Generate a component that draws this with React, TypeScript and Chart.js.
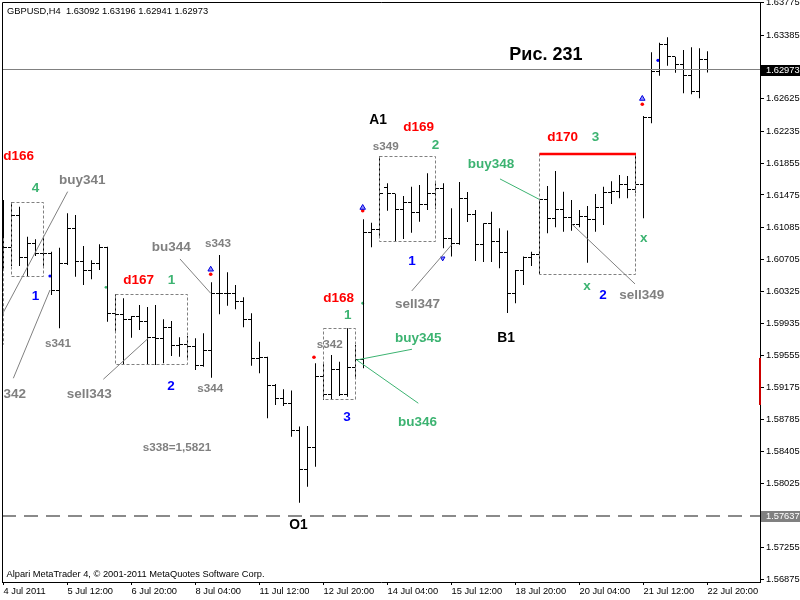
import React, { useEffect, useRef } from "react";
import { Chart, registerables } from "chart.js";

Chart.register(...registerables);

const FONT = "'Liberation Sans', Arial, sans-serif";

// ---------- OHLC data (GBPUSD H4, 4 Jul - 22 Jul 2011) ----------
const barOpen = [
  1.61116, 1.60849, 1.61224, 1.60729, 1.60889, 1.60777, 1.60769, 1.60326, 1.60657, 1.61076,
  1.60677, 1.60574, 1.60657, 1.60849, 1.60059, 1.60047, 1.59979, 1.60018, 1.59955, 1.59767,
  1.59760, 1.59891, 1.59676, 1.59683, 1.59659, 1.59432, 1.59611, 1.60298, 1.60298, 1.60290,
  1.60198, 1.59987, 1.59520, 1.59532, 1.59189, 1.59042, 1.58973, 1.58654, 1.58183, 1.58455,
  1.59300, 1.59089, 1.59389, 1.59081, 1.59413, 1.59500, 1.61029, 1.61056, 1.61567, 1.61487,
  1.61304, 1.61388, 1.61268, 1.61364, 1.61487, 1.61555, 1.60948, 1.60889, 1.61427, 1.61236,
  1.60877, 1.61128, 1.60918, 1.60784, 1.60298, 1.60569, 1.60721, 1.60765, 1.61420, 1.61188,
  1.61304, 1.61208, 1.61124, 1.61220, 1.61176, 1.61328, 1.61507, 1.61515, 1.61603, 1.61543,
  1.61603, 1.62405, 1.62959, 1.63279, 1.63127, 1.63040, 1.62911, 1.62712, 1.63092,
];
const barHigh = [
  1.61415, 1.61388, 1.61335, 1.60976, 1.60945, 1.60969, 1.60796, 1.60844, 1.61256, 1.61236,
  1.60865, 1.60693, 1.60885, 1.60855, 1.60286, 1.60239, 1.60027, 1.60158, 1.60134, 1.60158,
  1.59987, 1.59967, 1.59772, 1.59787, 1.59760, 1.59820, 1.60430, 1.60757, 1.60550, 1.60398,
  1.60250, 1.60059, 1.59719, 1.59539, 1.59213, 1.59149, 1.59133, 1.58702, 1.58710, 1.59460,
  1.59468, 1.59560, 1.59480, 1.59879, 1.59680, 1.61184, 1.61143, 1.61940, 1.61615, 1.61490,
  1.61463, 1.61574, 1.61595, 1.61735, 1.61615, 1.61615, 1.61316, 1.61631, 1.61511, 1.61295,
  1.61136, 1.61275, 1.61076, 1.61050, 1.60577, 1.60737, 1.60796, 1.61424, 1.61583, 1.61762,
  1.61515, 1.61415, 1.61295, 1.61343, 1.61487, 1.61574, 1.61639, 1.61714, 1.61702, 1.61966,
  1.62421, 1.63183, 1.63298, 1.63363, 1.63131, 1.63211, 1.63243, 1.63231, 1.63196,
];
const barLow = [
  1.60577, 1.60625, 1.60625, 1.60497, 1.60745, 1.60601, 1.60278, 1.59879, 1.60637, 1.60497,
  1.60398, 1.60466, 1.60577, 1.59958, 1.59839, 1.59440, 1.59767, 1.59859, 1.59440, 1.59440,
  1.59460, 1.59548, 1.59539, 1.59524, 1.59380, 1.59420, 1.59288, 1.60047, 1.60150, 1.60107,
  1.59891, 1.59432, 1.59341, 1.58802, 1.58961, 1.58949, 1.58582, 1.57792, 1.57983, 1.58223,
  1.59021, 1.59021, 1.59069, 1.59061, 1.59281, 1.59401, 1.60849, 1.60960, 1.61287, 1.60924,
  1.60948, 1.61024, 1.61155, 1.61295, 1.61304, 1.60837, 1.60737, 1.60880, 1.61152, 1.60685,
  1.60673, 1.60673, 1.60598, 1.60063, 1.60179, 1.60398, 1.60625, 1.60529, 1.61017, 1.61088,
  1.61036, 1.61048, 1.61088, 1.60665, 1.61036, 1.61116, 1.61367, 1.61435, 1.61435, 1.61503,
  1.61196, 1.62333, 1.62903, 1.63023, 1.62939, 1.62692, 1.62680, 1.62633, 1.62941,
];
const barClose = [
  1.60849, 1.61224, 1.60729, 1.60889, 1.60769, 1.60777, 1.60326, 1.60657, 1.61076, 1.60677,
  1.60574, 1.60657, 1.60849, 1.60059, 1.60047, 1.59979, 1.60018, 1.59955, 1.59767, 1.59760,
  1.59891, 1.59676, 1.59683, 1.59659, 1.59432, 1.59611, 1.60298, 1.60298, 1.60290, 1.60198,
  1.59987, 1.59520, 1.59532, 1.59189, 1.59042, 1.58973, 1.58654, 1.58183, 1.58455, 1.59300,
  1.59089, 1.59389, 1.59081, 1.59413, 1.59500, 1.61029, 1.61056, 1.61495, 1.61487, 1.61304,
  1.61388, 1.61268, 1.61364, 1.61487, 1.61555, 1.60948, 1.60889, 1.61427, 1.61236, 1.60877,
  1.61128, 1.60918, 1.60784, 1.60298, 1.60569, 1.60721, 1.60765, 1.61420, 1.61188, 1.61304,
  1.61208, 1.61124, 1.61220, 1.61176, 1.61328, 1.61507, 1.61515, 1.61603, 1.61543, 1.61603,
  1.62405, 1.62959, 1.63279, 1.63127, 1.63040, 1.62911, 1.62712, 1.63091, 1.62973,
];

// ---------- axes ----------
const xTickBars = [0, 8, 16, 24, 32, 40, 48, 56, 64, 72, 80, 88];
const xTickLabels = [
  "4 Jul 2011", "5 Jul 12:00", "6 Jul 20:00", "8 Jul 04:00", "11 Jul 12:00", "12 Jul 20:00",
  "14 Jul 04:00", "15 Jul 12:00", "18 Jul 20:00", "20 Jul 04:00", "21 Jul 12:00", "22 Jul 20:00",
];
const yTickValues = [
  1.56875, 1.57255, 1.58025, 1.58405, 1.58785, 1.59175, 1.59555, 1.59935, 1.60325,
  1.60705, 1.61085, 1.61475, 1.61855, 1.62235, 1.62625, 1.63385, 1.63775,
];
const yMin = 1.56842;
const yMax = 1.63785;
const xMin = -0.1875;
const xMax = 94.5625;

const titleText = "GBPUSD,H4  1.63092 1.63196 1.62941 1.62973";
const copyrightText = "Alpari MetaTrader 4, \u00A9 2001-2011 MetaQuotes Software Corp.";

// ---------- horizontal levels ----------
const bidLine = 1.62973;
const levelLine = 1.57637;
const redAxisMark = [1.58961, 1.59524];

// ---------- rectangles [fromBar, toBar, top, bottom] ----------
const boxFrom = [1, 14, 40, 47, 67];
const boxTo = [5, 23, 44, 54, 79];
const boxTop = [1.61388, 1.60286, 1.59879, 1.61940, 1.61966];
const boxBottom = [1.60497, 1.59440, 1.59021, 1.60916, 1.60526];
const redTopBox = 4;
const edgeLine = [0, 1.60957, 1.59683];

// ---------- trend lines [fromBar, fromPrice, toBar, toPrice, kind] ----------
const trendLines: [number, number, number, number, string][] = [
  [8.02, 1.61515, -0.19, 1.60039, "gray"],
  [5.81, 1.60338, 1.23, 1.59281, "gray"],
  [12.48, 1.59269, 18.1, 1.5976, "gray"],
  [22.06, 1.60709, 25.9, 1.60298, "gray"],
  [44.15, 1.595, 51.06, 1.59628, "green"],
  [44.15, 1.595, 51.85, 1.58982, "green"],
  [51.03, 1.60326, 56.03, 1.6088, "gray"],
  [62.06, 1.61667, 66.94, 1.61424, "green"],
  [71.03, 1.61128, 78.94, 1.6041, "gray"],
];

// ---------- text labels [text, bar, price, kind] ----------
const labels: [string, number, number, string][] = [
  ["d166", -0.02, 1.6195, "red"],
  ["4", 3.52, 1.61574, "green"],
  ["buy341", 6.94, 1.61667, "gray"],
  ["1", 3.52, 1.60278, "blue"],
  ["s341", 5.19, 1.597, "small"],
  ["sell342", 2.81, 1.59101, "grayRight"],
  ["sell343", 7.9, 1.59101, "gray"],
  ["bu344", 18.53, 1.60868, "gray"],
  ["s343", 25.19, 1.60897, "small"],
  ["d167", 14.98, 1.60466, "red"],
  ["1", 20.53, 1.60466, "green"],
  ["2", 20.48, 1.59201, "blue"],
  ["s344", 24.23, 1.59161, "small"],
  ["s338=1,5821", 17.4, 1.58462, "small"],
  ["O1", 35.73, 1.57537, "black"],
  ["d168", 39.98, 1.6025, "red"],
  ["1", 42.56, 1.60047, "green"],
  ["s342", 39.15, 1.59688, "small"],
  ["3", 42.48, 1.58833, "blue"],
  ["buy345", 48.94, 1.59772, "green"],
  ["bu346", 49.31, 1.58773, "green"],
  ["A1", 45.73, 1.62381, "black"],
  ["s349", 46.15, 1.62065, "small"],
  ["d169", 49.98, 1.62293, "red"],
  ["2", 53.53, 1.62086, "green"],
  ["1", 50.6, 1.60697, "blue"],
  ["sell347", 48.94, 1.60179, "gray"],
  ["buy348", 58.03, 1.61854, "green"],
  ["B1", 61.73, 1.59772, "black"],
  ["d170", 67.98, 1.62181, "red"],
  ["3", 73.53, 1.62181, "green"],
  ["x", 79.56, 1.60976, "green"],
  ["x", 72.48, 1.60398, "green"],
  ["2", 74.48, 1.60286, "blue"],
  ["sell349", 76.98, 1.60286, "gray"],
  ["Рис. 231", 63.23, 1.63171, "big"],
];

// ---------- point markers ----------
const redDots = [
  { x: 25.9, y: 1.60526 },
  { x: 44.9, y: 1.61287 },
  { x: 79.85, y: 1.62561 },
  { x: 38.81, y: 1.59532 },
];
const blueDots = [
  { x: 5.81, y: 1.60505 },
  { x: 81.81, y: 1.63087 },
];
const greenDots = [
  { x: 12.81, y: 1.6037 },
  { x: 44.9, y: 1.60179 },
];
const upArrows = [
  { x: 25.9, y: 1.60584 },
  { x: 44.9, y: 1.61323 },
  { x: 79.85, y: 1.62628 },
];
const downArrows = [{ x: 54.9, y: 1.60717 }];

const COLORS: Record<string, string> = {
  red: "#ff0000",
  green: "#3cb371",
  blue: "#0000ff",
  gray: "#808080",
  grayRight: "#808080",
  small: "#808080",
  black: "#000000",
  big: "#000000",
};
const SIZES: Record<string, number> = {
  red: 13.5,
  green: 13.5,
  blue: 13.5,
  gray: 13.5,
  grayRight: 13.5,
  small: 11.7,
  black: 13.8,
  big: 18,
};

const overlayPlugin = {
  id: "mt4overlay",
  afterDatasetsDraw(chart: any) {
    const { ctx, chartArea: a } = chart;
    const xs = chart.scales.x;
    const ys = chart.scales.y;
    const px = (v: number) => xs.getPixelForValue(v);
    const py = (v: number) => ys.getPixelForValue(v);
    ctx.save();
    ctx.beginPath();
    ctx.rect(a.left, a.top, a.right - a.left, a.bottom - a.top);
    ctx.clip();

    // open / close ticks of the OHLC bars
    ctx.fillStyle = "#000";
    for (let i = 0; i < barOpen.length; i++) {
      const col = Math.floor(px(i));
      ctx.fillRect(col - 3, Math.floor(py(barOpen[i])), 3, 1);
      ctx.fillRect(col + 1, Math.floor(py(barClose[i])), 3, 1);
    }

    // horizontal levels
    ctx.strokeStyle = "#808080";
    ctx.lineWidth = 1;
    ctx.setLineDash([]);
    let yy = Math.floor(py(bidLine)) + 0.5;
    ctx.beginPath();
    ctx.moveTo(a.left, yy);
    ctx.lineTo(a.right, yy);
    ctx.stroke();
    ctx.strokeStyle = "#8a8a8a";
    ctx.lineWidth = 2;
    ctx.setLineDash([14, 8]);
    yy = Math.round(py(levelLine));
    ctx.beginPath();
    ctx.moveTo(a.left, yy);
    ctx.lineTo(a.right, yy);
    ctx.stroke();

    // dashed rectangles
    ctx.lineWidth = 1;
    ctx.strokeStyle = "#808080";
    ctx.setLineDash([3, 2]);
    for (let k = 0; k < boxFrom.length; k++) {
      const l = Math.floor(px(boxFrom[k])) + 0.5;
      const r = Math.floor(px(boxTo[k])) + 0.5;
      const t = Math.floor(py(boxTop[k])) + 0.5;
      const b = Math.floor(py(boxBottom[k])) + 0.5;
      ctx.beginPath();
      if (k === redTopBox) {
        ctx.moveTo(l, t);
        ctx.lineTo(l, b);
        ctx.lineTo(r, b);
        ctx.lineTo(r, t);
      } else {
        ctx.rect(l, t, r - l, b - t);
      }
      ctx.stroke();
    }
    {
      const l = Math.floor(px(edgeLine[0])) + 0.5;
      ctx.beginPath();
      ctx.moveTo(l, py(edgeLine[1]));
      ctx.lineTo(l, py(edgeLine[2]));
      ctx.stroke();
    }
    ctx.setLineDash([]);
    // red top line of the d170 range
    ctx.strokeStyle = "#ff0000";
    ctx.lineWidth = 2.5;
    {
      const t = py(boxTop[redTopBox]);
      ctx.beginPath();
      ctx.moveTo(px(boxFrom[redTopBox]), t);
      ctx.lineTo(px(boxTo[redTopBox]) + 0.5, t);
      ctx.stroke();
    }

    // trend lines
    ctx.lineWidth = 1;
    for (const [b1, p1, b2, p2, kind] of trendLines) {
      ctx.strokeStyle = kind === "green" ? "#3cb371" : "#808080";
      ctx.beginPath();
      ctx.moveTo(px(b1), py(p1));
      ctx.lineTo(px(b2), py(p2));
      ctx.stroke();
    }

    // text labels
    for (const [text, b, p, kind] of labels) {
      const size = SIZES[kind];
      ctx.font = `bold ${size}px ${FONT}`;
      ctx.fillStyle = COLORS[kind];
      ctx.textAlign = kind === "grayRight" ? "right" : "left";
      ctx.textBaseline = "alphabetic";
      ctx.fillText(text, px(b), py(p) + size * 0.36);
    }
    ctx.restore();
  },
  afterDraw(chart: any) {
    const { ctx, chartArea: a } = chart;
    const ys = chart.scales.y;
    const py = (v: number) => ys.getPixelForValue(v);
    ctx.save();
    // frame (top / left)
    ctx.strokeStyle = "#000";
    ctx.lineWidth = 1;
    ctx.beginPath();
    ctx.moveTo(a.left + 0.5, a.bottom);
    ctx.lineTo(a.left + 0.5, a.top + 0.5);
    ctx.lineTo(a.right, a.top + 0.5);
    ctx.stroke();

    // red marker on price axis
    ctx.fillStyle = "#cc0000";
    ctx.fillRect(a.right - 1, py(redAxisMark[1]), 2, py(redAxisMark[0]) - py(redAxisMark[1]));

    // price labels
    const tag = (v: number, bg: string) => {
      const y = py(v);
      ctx.fillStyle = bg;
      ctx.fillRect(a.right + 1, Math.round(y) - 5, 40, 11);
      ctx.fillStyle = "#fff";
      ctx.font = `9.3px ${FONT}`;
      ctx.textAlign = "left";
      ctx.textBaseline = "middle";
      ctx.fillText(v.toFixed(5), a.right + 6, y + 0.5);
    };
    tag(bidLine, "#000");
    tag(levelLine, "#808080");

    // header and footer text
    ctx.fillStyle = "#000";
    ctx.font = `9.3px ${FONT}`;
    ctx.textAlign = "left";
    ctx.textBaseline = "middle";
    ctx.fillText(titleText, 7, 11);
    ctx.fillText(copyrightText, 6.5, 574.5);
    ctx.restore();
  },
};

export default function App() {
  const ref = useRef<HTMLCanvasElement>(null);
  useEffect(() => {
    const canvas = ref.current;
    if (!canvas) return;
    const chart = new Chart(canvas, {
      type: "bar",
      data: {
        datasets: [
          {
            type: "bar",
            data: barHigh.map((h, i) => ({ x: i, y: [barLow[i], h] })) as any,
            backgroundColor: "#000",
            borderWidth: 0,
            barThickness: 1,
            inflateAmount: 0,
            grouped: false,
          } as any,
          {
            type: "scatter",
            data: upArrows,
            pointStyle: "triangle",
            pointRadius: 3.2,
            backgroundColor: "#8c8cff",
            borderColor: "#0000dd",
            borderWidth: 1,
          } as any,
          {
            type: "scatter",
            data: downArrows,
            pointStyle: "triangle",
            rotation: 180,
            pointRadius: 2.6,
            backgroundColor: "#8c8cff",
            borderColor: "#0000dd",
            borderWidth: 1,
          } as any,
          {
            type: "scatter",
            data: redDots,
            pointRadius: 1.8,
            backgroundColor: "#ff0000",
            borderWidth: 0,
          } as any,
          {
            type: "scatter",
            data: blueDots,
            pointRadius: 1.6,
            backgroundColor: "#0000ff",
            borderWidth: 0,
          } as any,
          {
            type: "scatter",
            data: greenDots,
            pointRadius: 1.4,
            backgroundColor: "#3cb371",
            borderWidth: 0,
          } as any,
        ],
      },
      options: {
        responsive: false,
        animation: false,
        events: [],
        layout: { autoPadding: false, padding: { left: 2, top: 2, right: 0, bottom: 0 } },
        plugins: { legend: { display: false }, tooltip: { enabled: false } },
        scales: {
          x: {
            type: "linear",
            min: xMin,
            max: xMax,
            bounds: "data",
            offset: false,
            afterBuildTicks: (s: any) => {
              s.ticks = xTickBars.map((v) => ({ value: v }));
            },
            afterFit: (s: any) => {
              s.height = 18;
              s.paddingLeft = 0;
              s.paddingRight = 0;
            },
            ticks: {
              autoSkip: false,
              maxRotation: 0,
              minRotation: 0,
              align: "start",
              padding: 1,
              color: "#000",
              font: { family: FONT, size: 9.3 },
              callback: (v: any) => {
                const idx = xTickBars.indexOf(Number(v));
                return idx >= 0 ? xTickLabels[idx] : "";
              },
            },
            grid: { display: true, drawOnChartArea: false, drawTicks: true, tickLength: 3, color: "#000", offset: false },
            border: { display: true, color: "#000" },
          },
          y: {
            type: "linear",
            position: "right",
            min: yMin,
            max: yMax,
            bounds: "data",
            afterBuildTicks: (s: any) => {
              s.ticks = yTickValues.map((v) => ({ value: v }));
            },
            afterFit: (s: any) => {
              s.width = 40;
              s.paddingTop = 0;
              s.paddingBottom = 0;
            },
            ticks: {
              autoSkip: false,
              padding: 2,
              color: "#000",
              font: { family: FONT, size: 9.3 },
              callback: (v: any) => Number(v).toFixed(5),
            },
            grid: { display: true, drawOnChartArea: false, drawTicks: true, tickLength: 4, color: "#000" },
            border: { display: true, color: "#000" },
          },
        },
      } as any,
      plugins: [overlayPlugin],
    });
    return () => chart.destroy();
  }, []);
  return (
    <div style={{ position: "absolute", left: 0, top: 0, width: 800, height: 600, background: "#fff" }}>
      <canvas ref={ref} width={800} height={600} style={{ display: "block" }} />
    </div>
  );
}
